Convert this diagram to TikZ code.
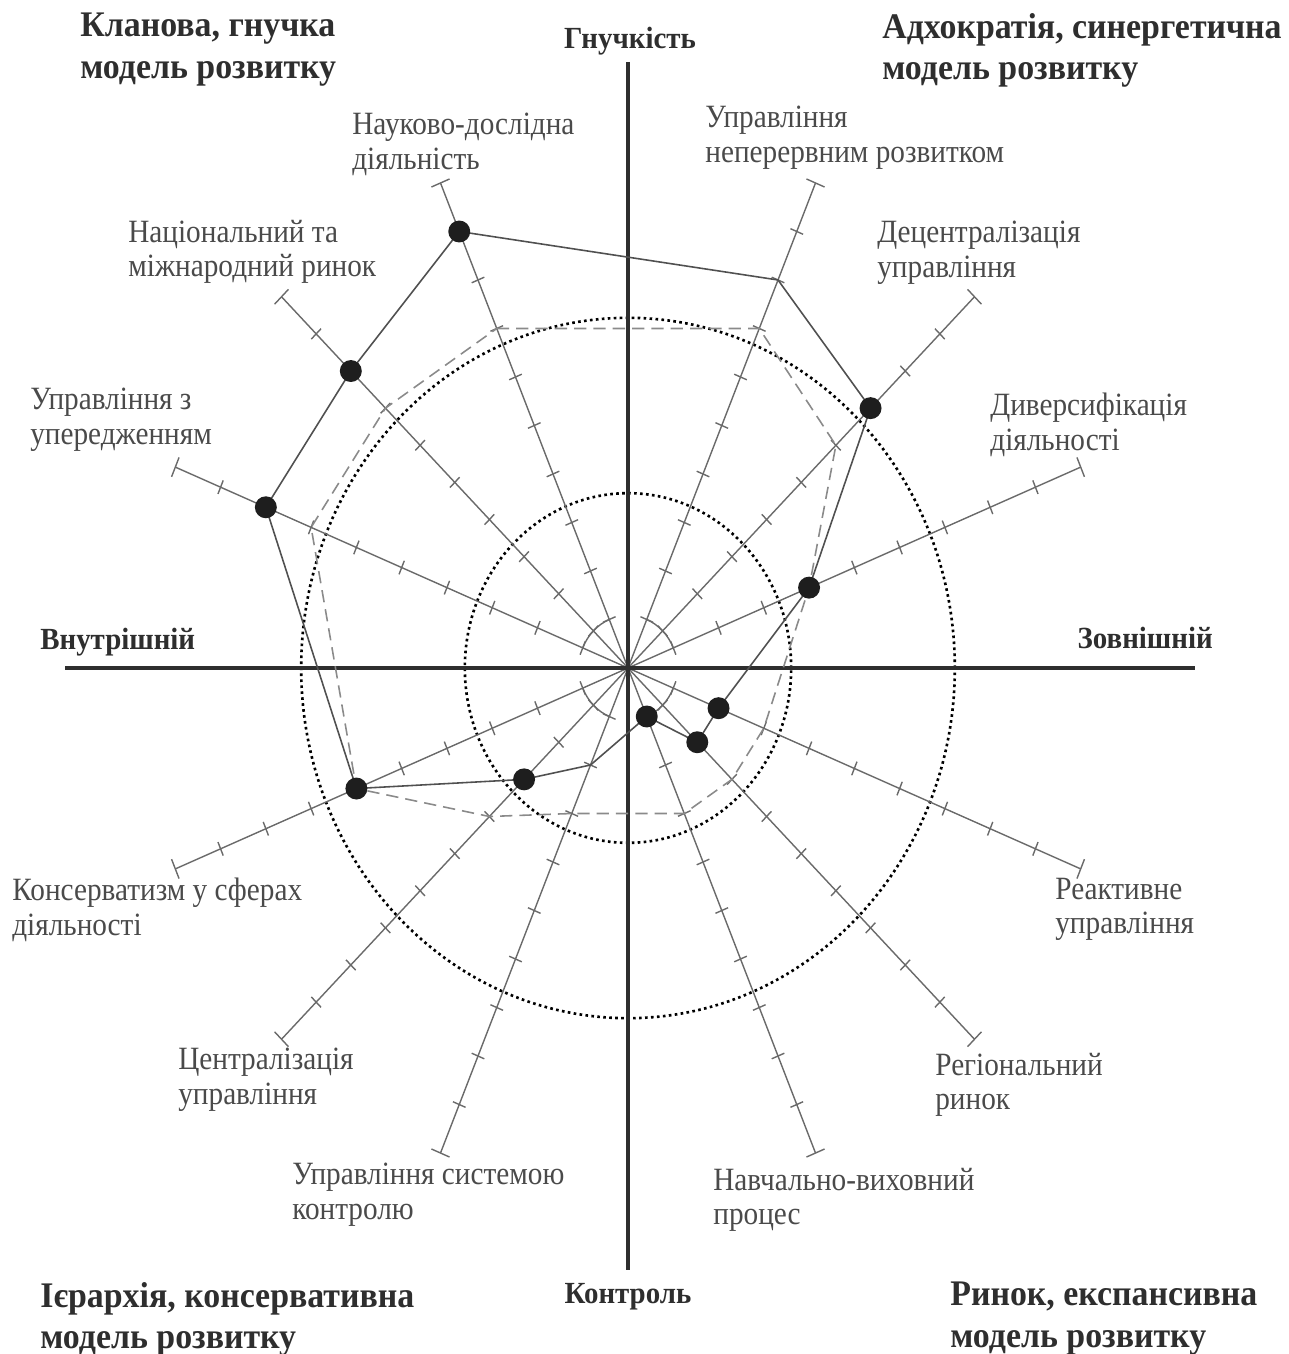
\documentclass[tikz,border=0pt]{standalone}
\usepackage{fontspec}
\setmainfont{Liberation Serif}
\newfontfamily\narrowfont{Liberation Serif}[FakeStretch=0.9]
\newfontfamily\headfont{Liberation Serif}[FakeStretch=0.94]

\definecolor{axisdark}{HTML}{2E2E2E}
\definecolor{spokegray}{HTML}{6A6A6A}
\definecolor{profilegray}{HTML}{505050}
\definecolor{targetgray}{HTML}{8A8A8A}
\definecolor{labelgray}{HTML}{4A4A4A}
\definecolor{dotblack}{HTML}{1E1E1E}

\tikzset{
  axisline/.style={draw=axisdark, line width=2pt},
  spoke/.style={draw=spokegray, line width=0.8pt},
  ringline/.style={draw=black, line width=1.5pt, dash pattern=on 1.5pt off 1.9pt},
  profile/.style={draw=profilegray, line width=0.9pt},
  target/.style={draw=targetgray, line width=0.9pt, dash pattern=on 7pt off 4pt},
  valdot/.style={circle, fill=dotblack, inner sep=0pt, minimum size=12.5pt},
  factor/.style={anchor=north west, align=left, inner sep=0pt, text=labelgray,
    font=\narrowfont\fontsize{18.5}{19.5}\selectfont},
  model/.style={anchor=north west, align=left, inner sep=0pt, text=axisdark,
    font=\headfont\bfseries\fontsize{20.5}{23.5}\selectfont},
  pole/.style={inner sep=0pt, text=axisdark, font=\headfont\bfseries\fontsize{17.5}{20}\selectfont},
}

\begin{document}
\begin{tikzpicture}[x=0.02cm,y=-0.02cm]
\useasboundingbox (0,0) rectangle (1288,1354);

\coordinate (top) at (628,62);
\coordinate (bottom) at (628,1270);
\coordinate (left) at (65,668);
\coordinate (right) at (1195,668);

\begin{scope}[shift={(628,668)}, xscale=49, yscale=-52.5]
  % rings
  \draw[ringline] (0,0) circle (3.33);
  \draw[ringline] (0,0) circle (6.67);
  % spokes with ticks
  \foreach \a in {22.5,45,67.5,112.5,135,157.5,202.5,225,247.5,292.5,315,337.5} {
    \draw[spoke] (0,0) -- (\a:10);
    \draw[spoke, rotate=\a] (10,-0.2) -- (10,0.2);
    \foreach \r in {1,...,9}
      \draw[spoke, rotate=\a] (\r,-0.14) -- (\r,0.14);
  }
  \foreach \a in {22.5,112.5,202.5,292.5}
    \draw[spoke] (\a:1) arc[start angle=\a, end angle=\a+45, radius=1];

  % target profile (dashed) and actual profile
  \foreach \a/\v [count=\i] in {112.5/7,67.5/7,45/6,22.5/4,-22.5/3,-45/3,-67.5/3,-112.5/3,-135/4,-157.5/6,157.5/7,135/7}
    \coordinate (t\i) at (\a:\v);
  \foreach \a/\v [count=\i] in {112.5/9,67.5/8,45/7,22.5/4,-22.5/2,-45/2,-67.5/1,-112.5/2,-135/3,-157.5/6,157.5/8,135/8}
    \coordinate (p\i) at (\a:\v);
\end{scope}

\draw[axisline] (top) -- (bottom);
\draw[axisline] (left) -- (right);

\draw[target] (t1) -- (t2) -- (t3) -- (t4) -- (t5) -- (t6) -- (t7) -- (t8) -- (t9) -- (t10) -- (t11) -- (t12) -- cycle;
\draw[profile] (p1) -- (p2) -- (p3) -- (p4) -- (p5) -- (p6) -- (p7) -- (p8) -- (p9) -- (p10) -- (p11) -- (p12) -- cycle;
\foreach \i in {1,3,4,5,6,7,9,10,11,12}
  \node[valdot] (d\i) at (p\i) {};

% factor labels
\node[factor] (research) at (352,113) {Науково-дослідна\\діяльність};
\node[factor] (continuous) at (705,106) {Управління\\неперервним розвитком};
\node[factor] (decentral) at (877,221) {Децентралізація\\управління};
\node[factor] (diversif) at (990,393) {Диверсифікація\\діяльності};
\node[factor] (reactive) at (1055,878) {Реактивне\\управління};
\node[factor] (regional) at (935,1053) {Регіональний\\ринок};
\node[factor] (education) at (713,1168) {Навчально-виховний\\процес};
\node[factor] (control) at (292,1163) {Управління системою\\контролю};
\node[factor] (central) at (178,1048) {Централізація\\управління};
\node[factor] (conserv) at (12,878) {Консерватизм у сферах\\діяльності};
\node[factor] (anticip) at (30,388) {Управління з\\упередженням};
\node[factor] (market) at (128,220) {Національний та\\міжнародний ринок};

% culture types
\node[model] (clan) at (80,13) {Кланова, гнучка\\модель розвитку};
\node[model] (adhoc) at (882,13) {Адхократія, синергетична\\модель розвитку};
\node[model] (hier) at (40,1282) {Ієрархія, консервативна\\модель розвитку};
\node[model] (mkt) at (950,1282) {Ринок, експансивна\\модель розвитку};

% axis poles
\node[pole] (flex) at (630,41) {Гнучкість};
\node[pole] (ctrl) at (628,1297) {Контроль};
\node[pole, anchor=west] (inner) at (40,642) {Внутрішній};
\node[pole, anchor=east] (outer) at (1213,638) {Зовнішній};

\end{tikzpicture}
\end{document}
